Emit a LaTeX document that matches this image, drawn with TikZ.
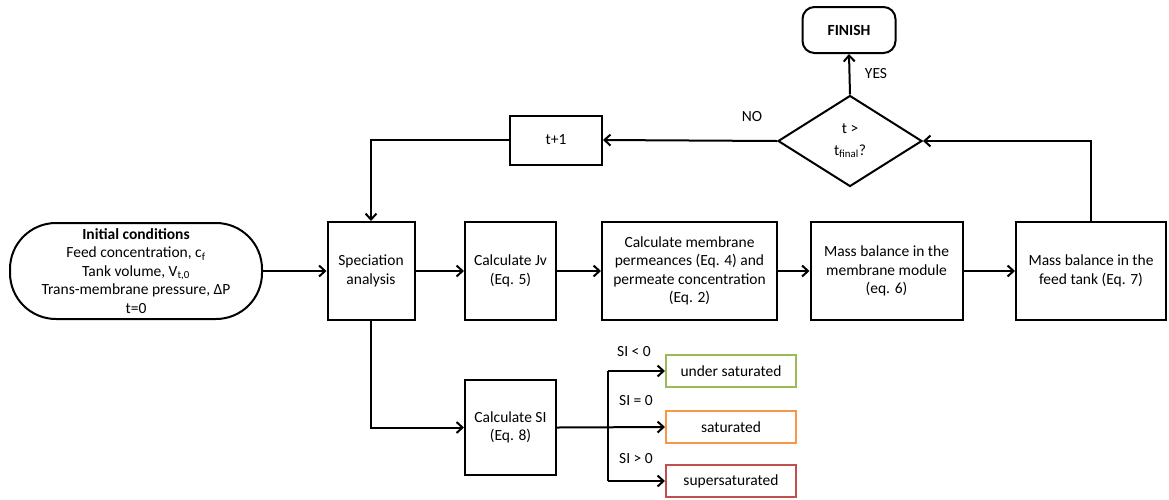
\documentclass[tikz,border=0pt]{standalone}
\usepackage{fontspec}
\setmainfont{Carlito}
\usetikzlibrary{arrows.meta,shapes.geometric}
\definecolor{okgreen}{HTML}{9BBB59}
\definecolor{okorange}{HTML}{F79646}
\definecolor{okred}{HTML}{C0504D}
\tikzset{
  base/.style={font=\fontsize{15.5pt}{18.5pt}\selectfont, align=center, inner sep=0pt},
  box/.style={base, draw, line width=2pt, minimum height=98pt},
  statebox/.style={base, draw, line width=2pt, minimum width=130pt, minimum height=32pt},
  conn/.style={line width=2pt},
  arr/.style={conn, -{Straight Barb[length=6pt,width=11pt,line width=2pt]}},
  lbl/.style={base}
}
\begin{document}
\begin{tikzpicture}[x=1pt,y=-1pt]
\useasboundingbox (0,0) rectangle (1169,499);

% start and end terminals
\node[box, rounded corners=46pt, minimum width=252pt, minimum height=96pt] (init) at (136,271)
  {\textbf{Initial conditions}\\Feed concentration, c\textsubscript{f}\\Tank volume, V\textsubscript{t,0}\\Trans-membrane pressure, ΔP\\t=0};
\node[box, rounded corners=12pt, minimum width=93pt, minimum height=46pt] (fin) at (849,30) {\textbf{FINISH}};

% main process chain
\node[box, minimum width=87pt]  (spec) at (371,271)   {Speciation\\analysis};
\node[box, minimum width=91pt]  (jv)   at (510.5,271) {Calculate Jv\\(Eq. 5)};
\node[box, minimum width=175pt] (perm) at (689.5,271) {Calculate membrane\\permeances (Eq. 4) and\\permeate concentration\\(Eq. 2)};
\node[box, minimum width=152pt] (mm)   at (886.5,271) {Mass balance in the\\membrane module\\(eq. 6)};
\node[box, minimum width=150pt] (feed) at (1091,271)  {Mass balance in the\\feed tank (Eq. 7)};

% time loop
\node[base, draw, line width=2pt, shape=diamond, aspect=1.59, minimum width=144pt, minimum height=91pt] (dec) at (850,141)
  {t >\\[3pt]t\textsubscript{final}?};
\node[box, minimum width=92pt, minimum height=49pt] (tp) at (556,140) {t+1};

% saturation check
\node[box, minimum width=91pt, minimum height=95pt] (si) at (510.5,427.5) {Calculate SI\\(Eq. 8)};
\node[statebox, draw=okgreen]  (under) at (731,371) {under saturated};
\node[statebox, draw=okorange] (sat)   at (731,427) {saturated};
\node[statebox, draw=okred]    (super) at (731,481) {supersaturated};
\coordinate (br) at (608,427);

% connectors
\draw[arr] (init.east) -- (spec.west);
\draw[arr] (spec.east) -- (jv.west);
\draw[arr] (jv.east) -- (perm.west);
\draw[arr] (perm.east) -- (mm.west);
\draw[arr] (mm.east) -- (feed.west);
\draw[arr] (feed.north) |- (dec.east);
\draw[arr] (dec.north) -- (fin.south);
\draw[arr] (dec.west) -- (tp.east);
\draw[arr] (tp.west) -| (spec.north);
\draw[arr] (spec.south) |- (si.west);
\draw[arr] (si.east) -- (sat.west);
\draw[conn] (br |- under.west) -- (br |- super.west);
\draw[arr] (br |- under.west) -- (under.west);
\draw[arr] (br |- super.west) -- (super.west);

% branch labels
\node[lbl] (yes) at (876,74) {YES};
\node[lbl] (no)  at (752,117) {NO};
\node[lbl] (lt)  at (634,352) {SI < 0};
\node[lbl] (eq)  at (636,401) {SI = 0};
\node[lbl] (gt)  at (636,459) {SI > 0};
\end{tikzpicture}
\end{document}
